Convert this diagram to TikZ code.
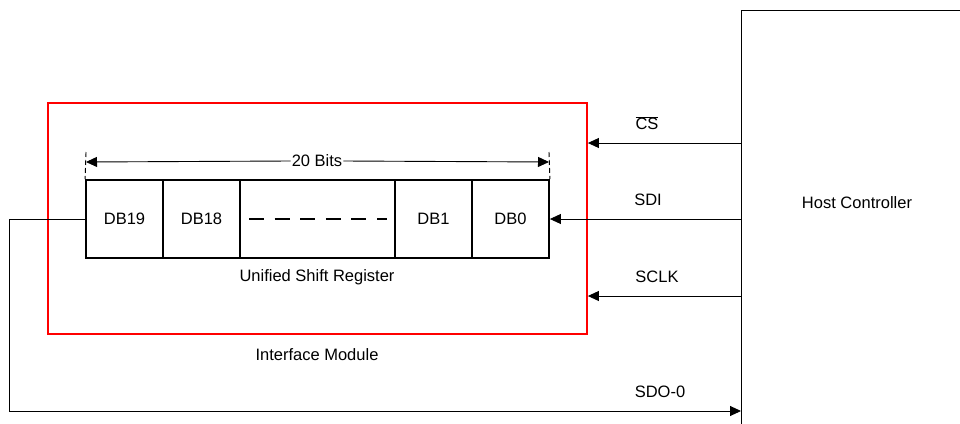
\documentclass[tikz,border=0pt]{standalone}
\usepackage{fontspec}
\setmainfont{Liberation Sans}
\usetikzlibrary{arrows.meta}
\begin{document}
\begin{tikzpicture}[x=1pt,y=-1pt,
  lbl/.style={font=\fontsize{16.5}{18}\selectfont, inner sep=0pt},
  cell/.style={draw, line width=1.8pt, minimum height=78pt, inner sep=0pt, anchor=center, font=\fontsize{16.5}{18}\selectfont},
  arr/.style={line width=0.9pt, -{Triangle[length=11pt,width=10pt]}},
  wire/.style={line width=0.9pt}]
\useasboundingbox (0,0) rectangle (960,423);
\clip (0,0) rectangle (960,423);
% Host controller
\node[draw, line width=0.9pt, minimum width=260pt, minimum height=440pt, anchor=north west, inner sep=0pt] (host) at (741,10) {};
\node[lbl] (hostlbl) at (857,203) {Host Controller};
% Interface module
\node[draw=red, line width=1.8pt, minimum width=539pt, minimum height=231pt, inner sep=0pt] (iface) at (317.5,218.5) {};
\node[lbl] (ifacelbl) at (317,355) {Interface Module};
% register cells
\node[cell, minimum width=77pt] (db19) at (124.5,219) {DB19};
\node[cell, minimum width=77pt] (db18) at (201.5,219) {DB18};
\node[cell, minimum width=155pt] (mid) at (317.5,219) {};
\node[cell, minimum width=77pt] (db1) at (433.5,219) {DB1};
\node[cell, minimum width=77pt] (db0) at (510.5,219) {DB0};
\draw[line width=1.8pt, dash pattern=on 15pt off 10.6pt] (249,219) -- (387,219);
\node[lbl] (usr) at (317,277) {Unified Shift Register};
% dimension
\node[lbl, fill=white, inner xsep=1pt] (bits) at (317,161) {20 Bits};
\coordinate (tl) at (86,162);
\coordinate (tr) at (549,162);
\draw[wire, dashed, dash pattern=on 5pt off 3pt] (86,152) -- (db19.north west);
\draw[wire, dashed, dash pattern=on 5pt off 3pt] (549,152) -- (db0.north east);
\draw[arr] (bits.west) -- (tl);
\draw[arr] (bits.east) -- (tr);
% signals
\draw[arr] (host.west |- 0,143) -- (iface.east |- 0,143);
\node[lbl] (cs) at (647,123) {$\overline{\mbox{CS}}$};
\draw[arr] (host.west |- db0.east) -- (db0.east);
\node[lbl] (sdi) at (648,200) {SDI};
\draw[arr] (host.west |- 0,296) -- (iface.east |- 0,296);
\node[lbl] (sclk) at (657,277) {SCLK};
\coordinate (sdoa) at (9.5,219);
\coordinate (sdob) at (9.5,411);
\draw[arr] (db19.west) -- (sdoa) -- (sdob) -- (host.west |- sdob);
\node[lbl] (sdo) at (660,392) {SDO-0};
\end{tikzpicture}
\end{document}
